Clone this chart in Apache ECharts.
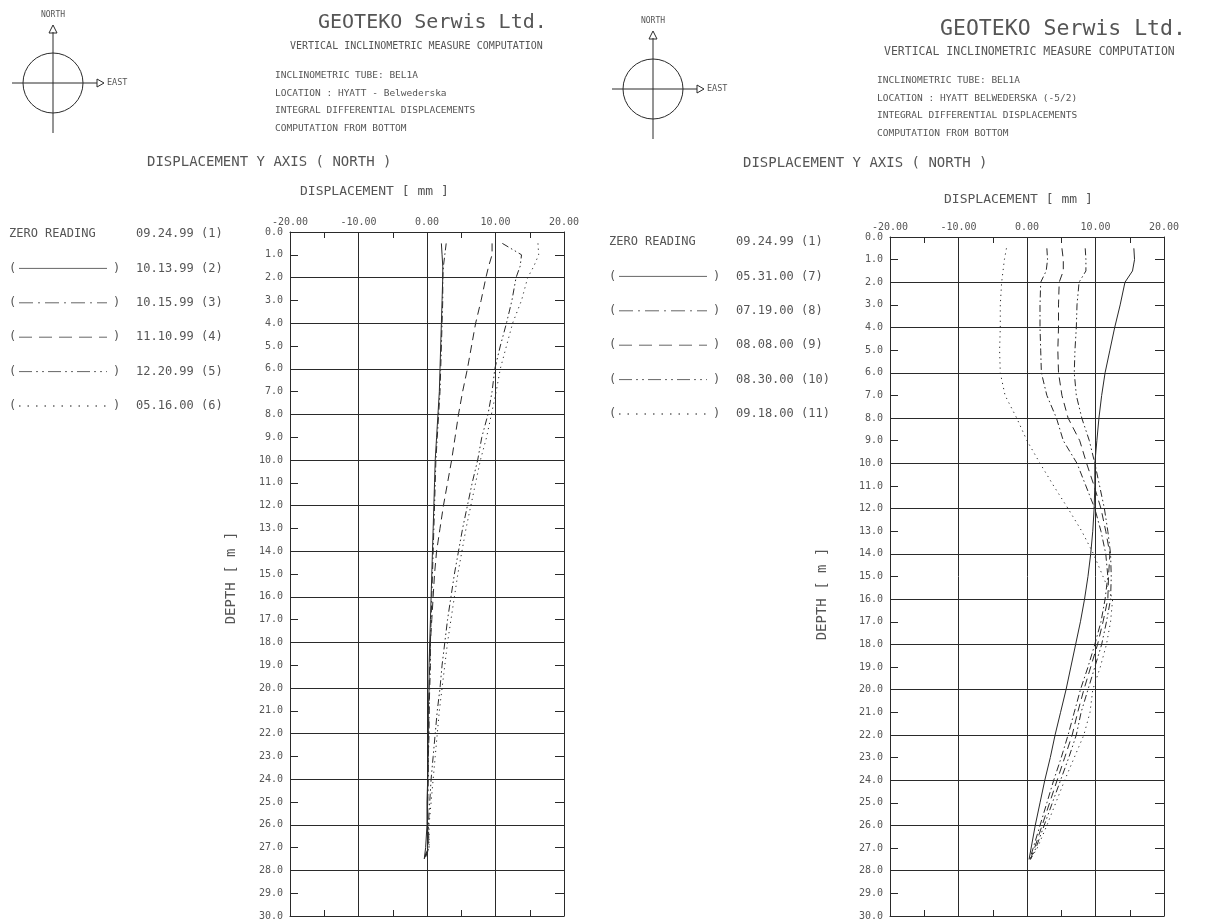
<!DOCTYPE html>
<html>
<head>
<meta charset="utf-8">
<title>BEL1A inclinometer - displacement Y axis</title>
<script src="https://cdn.jsdelivr.net/npm/echarts@6/dist/echarts.min.js"></script>
<style>
  html, body { margin: 0; padding: 0; background: #fff; }
  #chart { width: 1206px; height: 921px; }
</style>
</head>
<body>
<div id="chart"></div>
<script>
// Depth stations along the tube [m]
const depths = [0.5, 1, 1.5, 2, 3, 4, 5, 6, 7, 8, 9, 10, 11, 12, 13, 14, 15, 16, 17, 18, 19, 20, 21, 22, 23, 24, 25, 26, 27, 27.5];

// Tube BEL1A - HYATT Belwederska: displacement [mm] at each depth
const disp_101399 = [2.1, 2.2, 2.3, 2.3, 2.2, 2.1, 2.0, 1.9, 1.8, 1.6, 1.4, 1.2, 1.1, 1.0, 0.9, 0.8, 0.7, 0.6, 0.5, 0.4, 0.3, 0.3, 0.2, 0.2, 0.1, 0.1, 0.0, 0.0, -0.2, -0.4];
const disp_101599 = [2.8, 2.6, 2.4, 2.3, 2.3, 2.2, 2.1, 2.0, 1.9, 1.7, 1.5, 1.3, 1.2, 1.1, 1.0, 0.9, 0.8, 0.7, 0.6, 0.5, 0.5, 0.4, 0.3, 0.3, 0.2, 0.2, 0.1, 0.1, 0.1, -0.4];
const disp_111099 = [9.5, 9.5, 9.0, 8.6, 7.9, 7.1, 6.5, 5.9, 5.2, 4.6, 4.1, 3.6, 3.0, 2.4, 1.9, 1.4, 1.1, 0.9, 0.7, 0.5, 0.4, 0.3, 0.3, 0.2, 0.2, 0.1, 0.1, 0.1, 0.2, -0.4];
const disp_122099 = [11.0, 13.8, 13.6, 13.0, 12.4, 11.6, 10.7, 9.9, 9.5, 8.9, 8.0, 7.4, 6.6, 5.9, 5.2, 4.6, 4.0, 3.5, 3.0, 2.6, 2.2, 1.9, 1.5, 1.2, 0.9, 0.6, 0.4, 0.2, 0.3, -0.3];
const disp_051600 = [16.2, 16.3, 15.6, 14.7, 13.8, 12.5, 11.6, 10.7, 10.1, 9.4, 8.7, 7.8, 7.1, 6.4, 5.7, 5.1, 4.5, 4.0, 3.5, 3.0, 2.6, 2.2, 1.8, 1.5, 1.2, 0.9, 0.6, 0.3, 0.3, -0.3];

// Tube BEL1A - HYATT BELWEDERSKA (-5/2)
const disp_053100 = [15.6, 15.7, 15.4, 14.3, 13.6, 12.8, 12.1, 11.4, 10.9, 10.5, 10.2, 9.9, 9.9, 9.8, 9.6, 9.3, 8.9, 8.4, 7.8, 7.1, 6.4, 5.7, 4.9, 4.1, 3.4, 2.6, 1.9, 1.2, 0.6, 0.3];
const disp_071900 = [2.9, 3.0, 2.8, 2.0, 1.9, 1.9, 2.0, 2.1, 2.9, 4.3, 5.3, 7.3, 8.6, 9.9, 10.8, 11.5, 11.8, 11.4, 10.8, 9.9, 8.9, 7.8, 6.9, 6.0, 5.0, 3.9, 2.9, 1.9, 0.9, 0.4];
const disp_080800 = [5.1, 5.3, 5.3, 4.7, 4.6, 4.6, 4.5, 4.6, 5.1, 6.0, 7.7, 8.7, 9.8, 10.8, 11.5, 12.1, 11.9, 11.8, 11.1, 10.3, 9.3, 8.3, 7.4, 6.6, 5.5, 4.4, 3.3, 2.2, 1.1, 0.5];
const disp_083000 = [8.5, 8.6, 8.6, 7.6, 7.3, 7.2, 7.0, 6.9, 7.2, 8.0, 9.1, 9.9, 10.6, 11.3, 11.8, 12.2, 12.3, 12.2, 11.6, 10.9, 9.9, 8.9, 7.9, 7.2, 6.1, 4.9, 3.7, 2.5, 1.3, 0.5];
const disp_091800 = [-3.0, -3.3, -3.5, -3.7, -3.9, -3.9, -4.0, -3.9, -3.2, -1.5, 0.0, 1.9, 3.9, 6.0, 8.0, 9.7, 11.1, 12.5, 12.2, 11.6, 10.7, 9.6, 9.2, 8.3, 6.9, 5.5, 4.2, 2.9, 1.5, 0.5];

// Legend captions
const leftDates = ['09.24.99 (1)', '10.13.99 (2)', '10.15.99 (3)', '11.10.99 (4)', '12.20.99 (5)', '05.16.00 (6)'];
const rightDates = ['09.24.99 (1)', '05.31.00 (7)', '07.19.00 (8)', '08.08.00 (9)', '08.30.00 (10)', '09.18.00 (11)'];

// Header texts
const companyName = 'GEOTEKO Serwis Ltd.';
const subtitle = 'VERTICAL INCLINOMETRIC MEASURE COMPUTATION';
const leftInfo = ['INCLINOMETRIC TUBE: BEL1A', 'LOCATION : HYATT - Belwederska', 'INTEGRAL DIFFERENTIAL DISPLACEMENTS', 'COMPUTATION FROM BOTTOM'];
const rightInfo = ['INCLINOMETRIC TUBE: BEL1A', 'LOCATION : HYATT BELWEDERSKA (-5/2)', 'INTEGRAL DIFFERENTIAL DISPLACEMENTS', 'COMPUTATION FROM BOTTOM'];
const plotTitle = 'DISPLACEMENT Y AXIS ( NORTH )';
const xAxisName = 'DISPLACEMENT [ mm ]';
const yAxisName = 'DEPTH [ m ]';

// Axis ranges
const xMin = -20, xMax = 20, xMinorStep = 5, xMajorStep = 10;
const yMin = 0, yMax = 30, yStep = 1, yGridStep = 2;

// ---- styling ----
const MONO = '"DejaVu Sans Mono", "Liberation Mono", monospace';
const TXT = '#555';
const INK = '#2a2a2a';
const dashStyles = [
  'solid',
  [7, 3, 1.5, 3],
  [8, 5],
  [7, 3, 1.5, 3, 1.5, 3],
  [1.2, 4]
];
const legendDash = [
  null,
  [14, 5, 2, 5],
  [13, 7],
  [13, 4, 2, 4, 2, 4],
  [1.5, 7]
];

const chart = echarts.init(document.getElementById('chart'));

const grids = [
  { left: 290, top: 232, width: 274, height: 684 },
  { left: 890, top: 237, width: 274, height: 683 }
];

const xAxes = [];
const yAxes = [];
grids.forEach((g, gi) => {
  xAxes.push({
    gridIndex: gi, type: 'value', position: 'top', min: xMin, max: xMax, interval: xMinorStep,
    axisLine: { show: true, onZero: false, lineStyle: { color: INK, width: 1 } },
    axisTick: { show: true, inside: true, length: 6, lineStyle: { color: INK } },
    axisLabel: {
      margin: 5, color: TXT, fontFamily: MONO, fontSize: 10,
      formatter: v => (v % xMajorStep === 0 ? v.toFixed(2) : '')
    },
    splitLine: { show: false }
  });
  xAxes.push({
    gridIndex: gi, type: 'value', position: 'bottom', min: xMin, max: xMax, interval: xMinorStep,
    axisLine: { show: true, onZero: false, lineStyle: { color: INK, width: 1 } },
    axisTick: { show: true, inside: true, length: 6, lineStyle: { color: INK } },
    axisLabel: { show: false },
    splitLine: { show: false }
  });
  xAxes.push({
    gridIndex: gi, type: 'value', position: 'bottom', min: xMin, max: xMax, interval: xMajorStep,
    axisLine: { show: false }, axisTick: { show: false }, axisLabel: { show: false },
    splitLine: { show: true, lineStyle: { color: INK, width: 1 } }
  });

  yAxes.push({
    gridIndex: gi, type: 'value', inverse: true, position: 'left', min: yMin, max: yMax, interval: yStep,
    axisLine: { show: true, onZero: false, lineStyle: { color: INK, width: 1 } },
    axisTick: { show: true, inside: true, length: 8, lineStyle: { color: INK } },
    axisLabel: { margin: 7, color: TXT, fontFamily: MONO, fontSize: 10, formatter: v => v.toFixed(1) },
    splitLine: { show: false }
  });
  yAxes.push({
    gridIndex: gi, type: 'value', inverse: true, position: 'right', min: yMin, max: yMax, interval: yStep,
    axisLine: { show: true, onZero: false, lineStyle: { color: INK, width: 1 } },
    axisTick: { show: true, inside: true, length: 9, lineStyle: { color: INK } },
    axisLabel: { show: false },
    splitLine: { show: false }
  });
  yAxes.push({
    gridIndex: gi, type: 'value', inverse: true, position: 'right', min: yMin, max: yMax, interval: yGridStep,
    axisLine: { show: false }, axisTick: { show: false }, axisLabel: { show: false },
    splitLine: { show: true, lineStyle: { color: INK, width: 1 } }
  });
});

function profile(values) {
  return values.map((v, i) => [v, depths[i]]);
}

function makeSeries(name, values, gi, styleIdx) {
  return {
    name: name, type: 'line', xAxisIndex: gi * 3, yAxisIndex: gi * 3,
    data: profile(values), showSymbol: false, symbol: 'none', silent: true,
    animation: false,
    lineStyle: { color: INK, width: 1, type: dashStyles[styleIdx] }
  };
}

const series = [
  makeSeries(leftDates[1], disp_101399, 0, 0),
  makeSeries(leftDates[2], disp_101599, 0, 1),
  makeSeries(leftDates[3], disp_111099, 0, 2),
  makeSeries(leftDates[4], disp_122099, 0, 3),
  makeSeries(leftDates[5], disp_051600, 0, 4),
  makeSeries(rightDates[1], disp_053100, 1, 0),
  makeSeries(rightDates[2], disp_071900, 1, 1),
  makeSeries(rightDates[3], disp_080800, 1, 2),
  makeSeries(rightDates[4], disp_083000, 1, 3),
  makeSeries(rightDates[5], disp_091800, 1, 4)
];

// ---- annotation graphics ----
function txt(x, y, text, size, opts) {
  return Object.assign({
    type: 'text', x: x, y: y, silent: true,
    style: Object.assign({
      text: text, fill: TXT, font: size + 'px ' + MONO,
      textAlign: 'left', textVerticalAlign: 'middle'
    }, (opts && opts.style) || {})
  }, opts && opts.rotation !== undefined ? { rotation: opts.rotation } : {});
}

function compass(cx, cy) {
  const s = { stroke: INK, lineWidth: 1, fill: null };
  return [
    { type: 'circle', silent: true, shape: { cx: cx, cy: cy, r: 30 }, style: s },
    { type: 'line', silent: true, shape: { x1: cx, y1: cy - 51, x2: cx, y2: cy + 50 }, style: s },
    { type: 'line', silent: true, shape: { x1: cx - 41, y1: cy, x2: cx + 44, y2: cy }, style: s },
    { type: 'polygon', silent: true, shape: { points: [[cx - 4, cy - 50], [cx + 4, cy - 50], [cx, cy - 58]] }, style: s },
    { type: 'polygon', silent: true, shape: { points: [[cx + 44, cy - 4], [cx + 44, cy + 4], [cx + 51, cy]] }, style: s },
    txt(cx + 54, cy, 'EAST', 8.5),
    txt(cx, cy - 68, 'NORTH', 8, { style: { textAlign: 'center' } })
  ];
}

function header(titleX, titleY, titleSize, subX, subY, subSize, infoX, infoY0, infoLines) {
  const out = [
    txt(titleX, titleY, companyName, titleSize),
    txt(subX, subY, subtitle, subSize)
  ];
  infoLines.forEach((line, i) => out.push(txt(infoX, infoY0 + i * 17.5, line, 9.5)));
  return out;
}

function legend(x0, y0, step, dates) {
  const out = [
    txt(x0, y0, 'ZERO READING', 12),
    txt(x0 + 127, y0, dates[0], 12)
  ];
  for (let i = 1; i < dates.length; i++) {
    const y = y0 + i * step;
    out.push(txt(x0, y, '(', 12));
    out.push({
      type: 'line', silent: true,
      shape: { x1: x0 + 10, y1: y, x2: x0 + 98, y2: y },
      style: { stroke: '#666', lineWidth: i === 5 ? 1.3 : 1, lineDash: legendDash[i - 1] }
    });
    out.push(txt(x0 + 104, y, ')', 12));
    out.push(txt(x0 + 127, y, dates[i], 12));
  }
  return out;
}

const graphics = [].concat(
  compass(53, 83),
  compass(653, 89),
  header(318, 23, 20, 290, 46, 10, 275, 76, leftInfo),
  header(940, 29, 21.5, 884, 52, 11.5, 877, 81, rightInfo),
  [
    txt(147, 162, plotTitle, 14),
    txt(743, 163, plotTitle, 14),
    txt(300, 192, xAxisName, 13),
    txt(944, 200, xAxisName, 13),
    txt(231, 578, yAxisName, 14, { rotation: Math.PI / 2, style: { textAlign: 'center' } }),
    txt(822, 594, yAxisName, 14, { rotation: Math.PI / 2, style: { textAlign: 'center' } })
  ],
  legend(9, 234, 34.4, leftDates),
  legend(609, 242, 34.4, rightDates)
);

chart.setOption({
  animation: false,
  backgroundColor: '#ffffff',
  grid: grids,
  xAxis: xAxes,
  yAxis: yAxes,
  series: series,
  graphic: graphics
});
</script>
</body>
</html>
